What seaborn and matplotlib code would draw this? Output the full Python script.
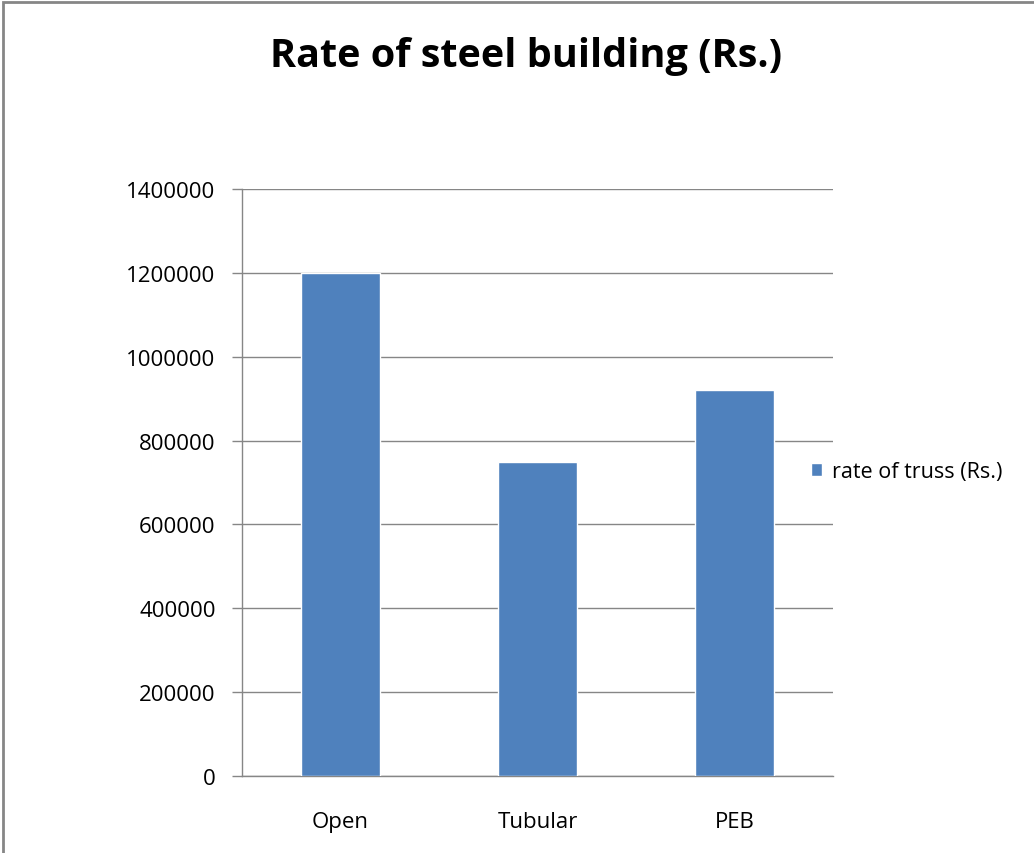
import matplotlib
matplotlib.use('Agg')
import matplotlib.pyplot as plt
import seaborn as sns
import pandas as pd
from matplotlib.patches import Rectangle

# Data
categories = ['Open', 'Tubular', 'PEB']
rates = [1200000, 750000, 920000]
series_name = 'rate of truss (Rs.)'

df = pd.DataFrame({'type': categories, 'rate': rates, 'series': series_name})

sns.set_style('white')
plt.rcParams['font.family'] = ['Open Sans', 'DejaVu Sans']
plt.rcParams['text.color'] = 'black'
plt.rcParams['xtick.color'] = 'black'
plt.rcParams['ytick.color'] = 'black'

fig = plt.figure(figsize=(10.34, 8.54), dpi=100)
ax = fig.add_axes([0.234, 0.0902, 0.5716, 0.6873])

sns.barplot(data=df, x='type', y='rate', hue='series', palette=['#4F81BD'],
            width=0.4, dodge=False, saturation=1, ax=ax, zorder=3)

ax.set_ylim(0, 1400000)
ax.set_yticks(range(0, 1400001, 200000))
ax.set_yticklabels([str(v) for v in range(0, 1400001, 200000)], fontsize=16)
ax.set_xlim(-0.5, 2.5)
ax.set_xlabel('')
ax.set_ylabel('')
ax.tick_params(axis='x', which='major', length=0, labelsize=16, pad=25)
ax.set_xticks([-0.5, 0.5, 1.5, 2.5], minor=True)
ax.tick_params(axis='x', which='minor', length=7, color='#868686', width=1)
ax.tick_params(axis='y', length=7, color='#868686', width=1, left=True, pad=12)
ax.grid(axis='y', color='#868686', linewidth=1, zorder=0)
for side in ['top', 'right']:
    ax.spines[side].set_visible(False)
for side in ['left', 'bottom']:
    ax.spines[side].set_color('#868686')
    ax.spines[side].set_linewidth(1)

ax.legend(loc='center left', bbox_to_anchor=(0.962, 0.518), frameon=False,
          fontsize=15.5, handlelength=0.55, handleheight=0.55, handletextpad=0.45,
          borderaxespad=0, borderpad=0)

fig.text(0.509, 1 - 67 / 854, 'Rate of steel building (Rs.)', ha='center', va='baseline',
         fontsize=28.5, fontweight='bold')

# outer chart frame
fig.patches.append(Rectangle((0.003, -0.01), 1.2, 1.006, transform=fig.transFigure,
                             fill=False, edgecolor='#868686', linewidth=2))

fig.savefig('out.png', dpi=100)
